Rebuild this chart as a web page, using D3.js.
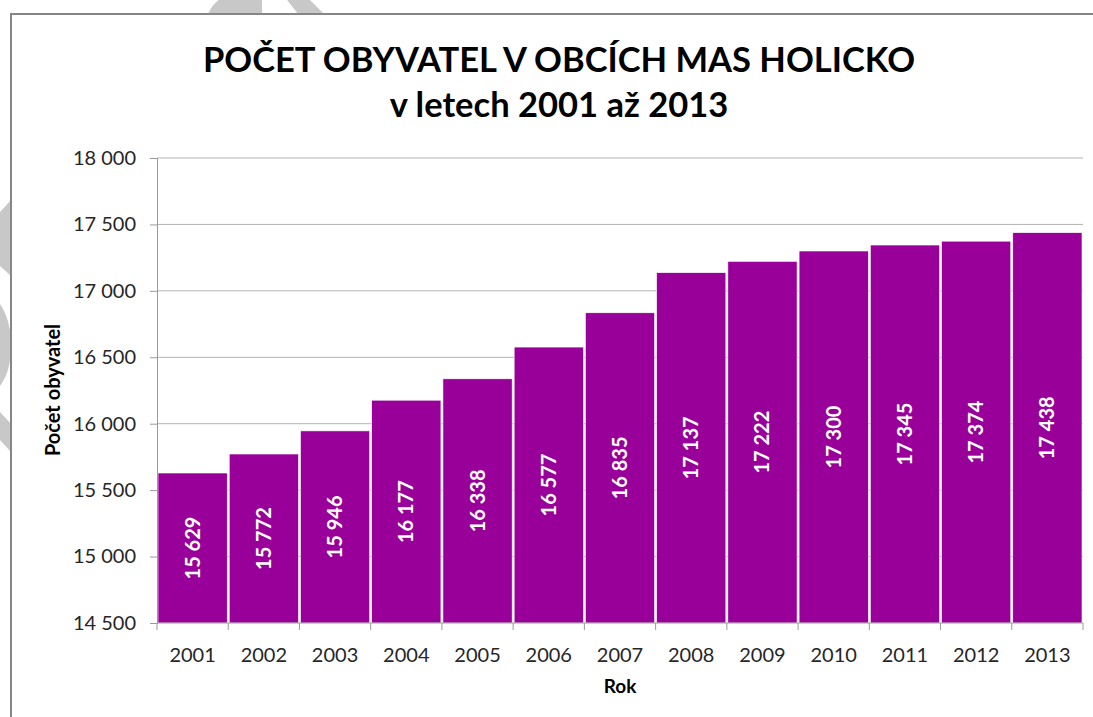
<!DOCTYPE html>
<html>
<head>
<meta charset="utf-8">
<script src="https://cdn.jsdelivr.net/npm/d3@7"></script>
<style>
  body { margin: 0; background: #fff; }
  svg { display: block; font-family: Lato, "Open Sans", sans-serif; }
</style>
</head>
<body>
<div class="chart"></div>
<script>
// data
const years = ['2001', '2002', '2003', '2004', '2005', '2006', '2007', '2008', '2009', '2010', '2011', '2012', '2013']
const population = [15629, 15772, 15946, 16177, 16338, 16577, 16835, 17137, 17222, 17300, 17345, 17374, 17438]
const yTicks = [14500, 15000, 15500, 16000, 16500, 17000, 17500, 18000]
const titleLines = ['POČET OBYVATEL V OBCÍCH MAS HOLICKO', 'v letech 2001 až 2013']

const width = 1093
const height = 717
const margin = { top: 158, right: 10, bottom: 94, left: 157 }

const fmt = d3.formatLocale({ decimal: ',', thousands: ' ', grouping: [3], currency: ['', ' Kč'] }).format(',d')

const svg = d3.select('.chart')
    .append('svg')
    .attr('width', width)
    .attr('height', height)

// faint watermark behind the chart frame
const wm = svg.append('g').attr('fill', '#c8c8c8')
wm.append('path').attr('d', 'M208,14 C212,4 220,-2 226,-4 L262,-4 L262,14 Z')
wm.append('path').attr('d', 'M284,-4 L306,-4 L324,14 L298,14 Z')
wm.append('path').attr('d', 'M0,212 L11,200 L11,276 L0,266 Z')
wm.append('path').attr('d', 'M0,304 C8,316 11,330 11,345 C11,362 8,375 0,386 Z')
wm.append('path').attr('d', 'M0,412 L11,424 L11,452 L0,440 Z')

// chart frame
svg.append('rect')
    .attr('x', 11)
    .attr('y', 14)
    .attr('width', width + 20)
    .attr('height', height + 20)
    .attr('fill', '#fff')
    .attr('stroke', '#868686')
    .attr('stroke-width', 2)

const x = d3.scaleBand()
    .domain(years)
    .range([margin.left, width - margin.right])
    .padding(0)

const y = d3.scaleLinear()
    .domain([14500, 18000])
    .range([height - margin.bottom, margin.top])

// gridlines
svg.append('g')
    .selectAll('line')
    .data(yTicks.slice(1))
    .enter()
    .append('line')
    .attr('x1', margin.left)
    .attr('x2', width - margin.right)
    .attr('y1', d => y(d))
    .attr('y2', d => y(d))
    .attr('stroke', '#b3b3b3')
    .attr('stroke-width', 1)

// bars
svg.append('g')
    .selectAll('rect')
    .data(population)
    .enter()
    .append('rect')
    .attr('x', (d, i) => x(years[i]) + 1)
    .attr('y', d => y(d))
    .attr('width', x.bandwidth() - 2)
    .attr('height', d => y(14500) - y(d))
    .attr('fill', '#990099')
    .attr('stroke', '#fff')
    .attr('stroke-width', 0.6)

// value labels inside the bars
svg.append('g')
    .selectAll('text')
    .data(population)
    .enter()
    .append('text')
    .attr('transform', (d, i) => {
        const cx = x(years[i]) + x.bandwidth() / 2
        const cy = (y(d) + y(14500)) / 2
        return 'translate(' + cx + ',' + cy + ') rotate(-90)'
    })
    .attr('text-anchor', 'middle')
    .attr('dy', '0.35em')
    .attr('fill', '#fff')
    .style('font-size', '20px')
    .style('font-weight', 'bold')
    .text(d => fmt(d))

// y axis
const yAxis = svg.append('g')
    .attr('transform', 'translate(' + margin.left + ',0)')
    .call(d3.axisLeft(y).tickValues(yTicks).tickFormat(fmt).tickSize(7).tickPadding(14))
yAxis.select('.domain').attr('stroke', '#9a9a9a')
yAxis.selectAll('.tick line').attr('stroke', '#9a9a9a')
yAxis.selectAll('.tick text')
    .attr('fill', '#262626')
    .style('font-size', '20px')
    .style('font-family', 'Lato, sans-serif')

// x axis, ticks between categories
const xAxis = svg.append('g')
    .attr('transform', 'translate(0,' + y(14500) + ')')
xAxis.append('line')
    .attr('x1', margin.left)
    .attr('x2', width - margin.right)
    .attr('stroke', '#9a9a9a')
xAxis.selectAll('.sep')
    .data(years.concat(['end']))
    .enter()
    .append('line')
    .attr('class', 'sep')
    .attr('x1', (d, i) => i < years.length ? x(d) : x.range()[1])
    .attr('x2', (d, i) => i < years.length ? x(d) : x.range()[1])
    .attr('y1', 0)
    .attr('y2', 7)
    .attr('stroke', '#9a9a9a')
xAxis.selectAll('.lbl')
    .data(years)
    .enter()
    .append('text')
    .attr('class', 'lbl')
    .attr('x', d => x(d) + x.bandwidth() / 2)
    .attr('y', 39)
    .attr('text-anchor', 'middle')
    .attr('fill', '#262626')
    .style('font-size', '20px')
    .text(d => d)

// axis titles
svg.append('text')
    .attr('x', x.range()[0] + (x.range()[1] - x.range()[0]) / 2)
    .attr('y', 693)
    .attr('text-anchor', 'middle')
    .style('font-size', '19px')
    .style('font-weight', 'bold')
    .text('Rok')

svg.append('text')
    .attr('transform', 'translate(60,390) rotate(-90)')
    .attr('text-anchor', 'middle')
    .style('font-size', '20px')
    .style('font-weight', 'bold')
    .text('Počet obyvatel')

// title
const titleY = [72, 117]
svg.selectAll('.title')
    .data(titleLines)
    .enter()
    .append('text')
    .attr('class', 'title')
    .attr('x', 559)
    .attr('y', (d, i) => titleY[i])
    .attr('text-anchor', 'middle')
    .style('font-size', '34.5px')
    .style('font-weight', 'bold')
    .text(d => d)
</script>
</body>
</html>
